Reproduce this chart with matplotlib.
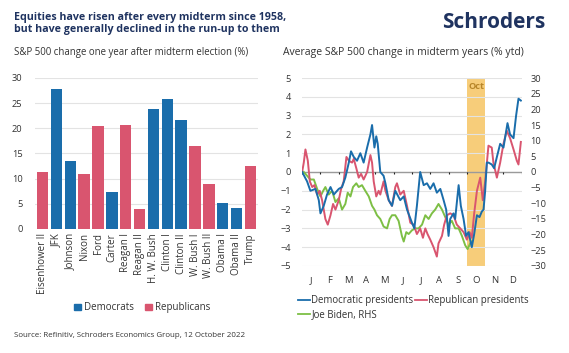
import matplotlib
matplotlib.use("Agg")
import matplotlib.pyplot as plt
from matplotlib.patches import Patch
from matplotlib.lines import Line2D
import numpy as np

plt.rcParams['font.family'] = ['Open Sans', 'DejaVu Sans']

# ---------------- data ----------------
presidents = ["Eisenhower II", "JFK", "Johnson", "Nixon", "Ford", "Carter", "Reagan I",
              "Reagan II", "H. W. Bush", "Clinton I", "Clinton II", "W. Bush I",
              "W. Bush II", "Obama I", "Obama II", "Trump"]
change_1y = [11.3, 27.7, 13.5, 11.0, 20.4, 7.3, 20.6, 3.9, 23.9, 25.8, 21.7, 16.5,
             9.0, 5.2, 4.2, 12.5]
party = ["R", "D", "D", "R", "R", "D", "R", "R", "D", "D", "D", "R", "R", "D", "D", "R"]

months = ["J", "F", "M", "A", "M", "J", "J", "A", "S", "O", "N", "D"]

dem_x = [0.00, 0.27, 0.45, 0.73, 0.91, 1.00, 1.18, 1.36, 1.55, 1.73, 1.91, 2.00, 2.18, 2.36,
         2.55, 2.67, 2.82, 3.00, 3.18, 3.36, 3.55, 3.73, 3.82, 3.95, 4.05, 4.13, 4.27, 4.45,
         4.55, 4.73, 4.91, 5.09, 5.36, 5.55, 5.73, 6.00, 6.13, 6.27, 6.45, 6.64, 6.82, 7.00,
         7.18, 7.36, 7.55, 7.73, 7.87, 8.00, 8.09, 8.27, 8.36, 8.55, 8.67, 8.82, 8.96, 9.09,
         9.27, 9.40, 9.55, 9.69, 9.82, 9.91, 10.00, 10.09, 10.18, 10.36, 10.49, 10.64, 10.82,
         11.00, 11.22, 11.36, 11.55, 11.69, 11.82, 11.95]
dem_y = [0.0, -0.5, -1.0, -0.9, -1.5, -2.2, -1.8, -1.2, -0.8, -1.2, -1.0, -0.9, -0.8, -0.3,
         0.5, 1.1, 0.8, 0.6, 1.0, 0.5, 1.3, 2.0, 2.5, 1.3, 1.9, 1.5, 0.0, -0.2,
         -0.6, -1.5, -1.8, -1.0, -1.5, -1.3, -2.0, -2.7, -3.0, -1.8, 0.0, -0.7, -0.6, -0.9,
         -0.6, -1.1, -0.9, -1.5, -2.0, -3.4, -2.5, -2.2, -2.5, -0.7, -1.8, -2.5, -3.4, -3.2,
         -4.0, -3.3, -2.3, -2.4, -2.1, -2.0, -1.0, 0.5, 0.5, 0.4, 0.2, 0.8, 1.5,
         1.3, 2.6, 2.0, 1.8, 3.0, 3.9, 3.8]

rep_x = [0.00, 0.09, 0.18, 0.31, 0.42, 0.55, 0.67, 0.82, 0.96, 1.09, 1.27, 1.40, 1.55, 1.69,
         1.82, 2.00, 2.13, 2.27, 2.42, 2.55, 2.73, 2.82, 2.96, 3.09, 3.22, 3.36, 3.55, 3.73,
         3.82, 3.91, 4.05, 4.18, 4.27, 4.45, 4.55, 4.73, 4.91, 5.09, 5.18, 5.36, 5.55, 5.73,
         5.91, 6.09, 6.27, 6.45, 6.60, 6.73, 6.85, 7.00, 7.18, 7.36, 7.45, 7.64, 7.76, 7.91,
         8.09, 8.27, 8.45, 8.64, 8.82, 9.00, 9.15, 9.27, 9.40, 9.55, 9.73, 9.87, 10.00, 10.18,
         10.36, 10.45, 10.64, 10.82, 11.00, 11.18, 11.36, 11.55, 11.73, 11.82, 11.95]
rep_y = [0.0, 0.5, 1.2, 0.6, -0.5, -0.8, -0.7, -1.2, -1.0, -1.5, -2.5, -2.8, -2.3, -1.7,
         -2.0, -1.5, -0.9, -0.5, 0.8, 0.6, 0.5, 0.7, 0.2, -0.3, -0.1, -0.4, 0.0, 0.9,
         0.5, -0.5, -1.3, -1.0, -1.2, -0.5, -1.0, -1.5, -1.8, -0.8, -0.6, -1.2, -1.0, -1.8,
         -2.7, -2.8, -3.3, -3.0, -3.5, -3.0, -3.3, -3.6, -4.0, -4.5, -3.8, -3.4, -2.8, -2.3,
         -2.2, -2.3, -2.8, -3.0, -3.2, -3.6, -3.2, -3.5, -2.2, -1.0, -0.3, -1.5, -0.5, 1.4,
         1.3, 0.5, -0.3, 0.5, 1.5, 2.2, 1.8, 1.2, 0.6, 0.4, 1.6]

biden_x = [0.09, 0.27, 0.45, 0.64, 0.82, 1.00, 1.15, 1.27, 1.45, 1.64, 1.82, 2.00, 2.18,
           2.36, 2.49, 2.64, 2.78, 2.96, 3.09, 3.27, 3.45, 3.64, 3.82, 3.95, 4.09, 4.27,
           4.45, 4.64, 4.78, 4.91, 5.09, 5.27, 5.45, 5.55, 5.69, 5.82, 6.00, 6.18, 6.36,
           6.55, 6.73, 6.91, 7.09, 7.27, 7.45, 7.64, 7.82, 8.00, 8.18, 8.36, 8.55, 8.73,
           8.91, 9.04, 9.18, 9.27]
biden_y = [0.0, -1.2, -2.4, -2.4, -5.4, -7.8, -6.0, -4.8, -7.2, -6.0, -9.6, -8.4, -12.0,
           -10.2, -6.6, -7.8, -4.8, -3.6, -4.8, -4.2, -6.0, -7.8, -10.8, -12.0, -13.8, -15.0,
           -17.4, -18.0, -15.0, -13.8, -13.8, -15.6, -20.4, -22.2, -19.2, -19.8, -18.6, -18.0,
           -18.0, -16.8, -13.8, -15.0, -13.2, -12.0, -10.2, -12.0, -14.4, -16.8, -15.6, -18.0,
           -18.0, -20.4, -23.4, -24.6, -22.8, -22.2]

# ---------------- style ----------------
BLUE = "#1a6dab"
RED = "#d9556f"
GREEN = "#7dbf45"
NAVY = "#1f3360"
GRID = "#e3e3e3"
TXT = "#333333"

fig = plt.figure(figsize=(5.69, 3.53), dpi=100)
fig.patch.set_facecolor("white")

fig.text(0.024, 0.965, "Equities have risen after every midterm since 1958,\nbut have generally declined in the run-up to them",
         fontsize=7.7, fontweight="bold", color=NAVY, va="top", ha="left", linespacing=1.1)
fig.text(0.958, 0.935, "Schroders", fontsize=15, fontweight="bold", color=NAVY,
         va="center", ha="right")
fig.text(0.024, 0.852, "S&P 500 change one year after midterm election (%)", fontsize=6.9,
         color=TXT, va="center", ha="left")
fig.text(0.497, 0.852, "Average S&P 500 change in midterm years (% ytd)", fontsize=7.5,
         color=TXT, va="center", ha="left")
fig.text(0.024, 0.05, "Source: Refinitiv, Schroders Economics Group, 12 October 2022",
         fontsize=5.7, color=TXT, va="center", ha="left")

# ---------------- left chart ----------------
ax1 = fig.add_axes([0.0615, 0.3513, 0.392, 0.428])
xpos = np.arange(len(presidents))
cols = [BLUE if p == "D" else RED for p in party]
ax1.bar(xpos, change_1y, width=0.82, color=cols, zorder=3)
ax1.set_ylim(0, 30)
ax1.set_xlim(-0.55, len(presidents) - 0.45)
ax1.set_yticks(range(0, 31, 5))
ax1.set_xticks(xpos)
ax1.set_xticklabels(presidents, rotation=90, fontsize=7.0, color=TXT)
ax1.tick_params(axis="y", labelsize=6.7, labelcolor=TXT, length=0, pad=9)
ax1.tick_params(axis="x", length=0, pad=3)
ax1.grid(axis="y", color=GRID, linewidth=0.8, zorder=0)
for s in ax1.spines.values():
    s.set_visible(False)

fig.legend(handles=[Patch(color=BLUE, label="Democrats"), Patch(color=RED, label="Republicans")],
           loc="center", bbox_to_anchor=(0.25, 0.128), ncol=2, frameon=False,
           fontsize=7.0, handlelength=0.7, handleheight=0.7, handletextpad=0.3,
           columnspacing=1.2, labelcolor=TXT)

# ---------------- right chart ----------------
ax2 = fig.add_axes([0.531, 0.2465, 0.386, 0.5325])
ax2.set_xlim(0, 12)
ax2.set_ylim(-5, 5)
ax2.axvspan(9, 10, color="#f7c86c", alpha=0.9, zorder=1, linewidth=0)
ax2.text(9.5, 4.55, "Oct", ha="center", va="center", fontsize=6.7, color="#b8862a",
         fontweight="bold", zorder=5)
ax2.set_yticks(range(-5, 6))
ax2.grid(axis="y", color=GRID, linewidth=0.8, zorder=0)
ax2.axhline(0, color="#9a9a9a", linewidth=1.0, zorder=2)
ax2.vlines(range(13), -0.13, 0, color="#222222", linewidth=0.8, zorder=2)
ax2.set_xticks(np.arange(12) + 0.5)
ax2.set_xticklabels(months, fontsize=6.8, color=TXT)
ax2.tick_params(axis="x", length=0, pad=7)
ax2.tick_params(axis="y", labelsize=6.7, labelcolor=TXT, length=0, pad=8)
for s in ax2.spines.values():
    s.set_visible(False)

ax3 = ax2.twinx()
ax3.set_ylim(-30, 30)
ax3.set_yticks(range(-30, 31, 5))
ax3.tick_params(axis="y", labelsize=6.7, labelcolor=TXT, length=0, pad=6)
for s in ax3.spines.values():
    s.set_visible(False)

ax3.plot(biden_x, biden_y, color=GREEN, linewidth=1.4, zorder=3)
ax3.plot(rep_x, [v * 6 for v in rep_y], color=RED, linewidth=1.4, zorder=4)
ax3.plot(dem_x, [v * 6 for v in dem_y], color=BLUE, linewidth=1.4, zorder=5)

handles = [Line2D([], [], color=BLUE, lw=1.3, label="Democratic presidents"),
           Line2D([], [], color=GREEN, lw=1.3, label="Joe Biden, RHS"),
           Line2D([], [], color=RED, lw=1.3, label="Republican presidents")]
fig.legend(handles=handles, loc="upper left", bbox_to_anchor=(0.517, 0.175), ncol=2,
           frameon=False, fontsize=6.9, handlelength=1.3, handletextpad=0.1,
           columnspacing=0.1, labelspacing=0.35, labelcolor=TXT, borderaxespad=0)

fig.savefig("out.png", dpi=100, facecolor="white")
